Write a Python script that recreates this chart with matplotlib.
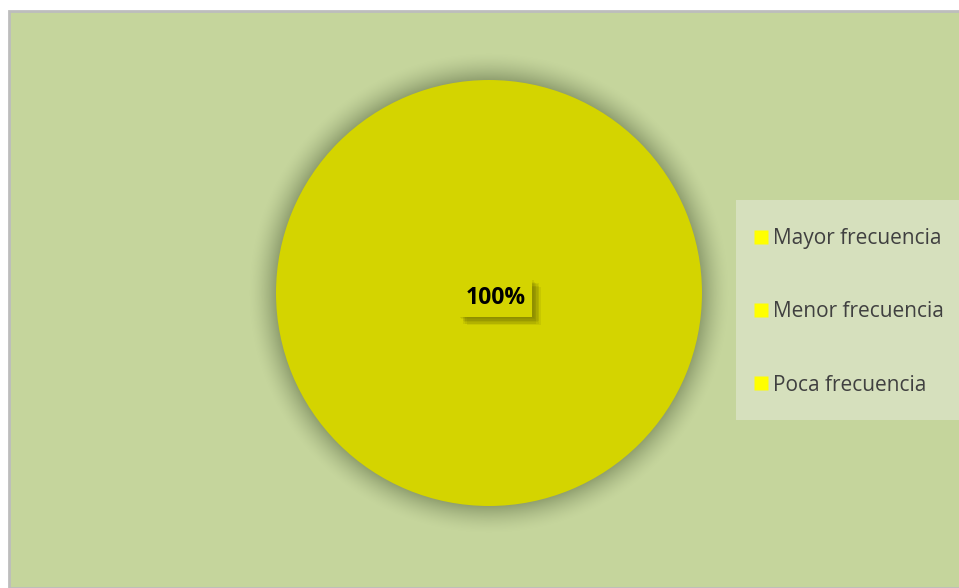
import numpy as np
import matplotlib.pyplot as plt
from matplotlib.patches import Rectangle
from matplotlib.lines import Line2D
import matplotlib.patheffects as pe

# survey answers, share of responses
categories = ['Mayor frecuencia', 'Menor frecuencia', 'Poca frecuencia']
values = [100, 0, 0]

W, H = 959, 588
fig = plt.figure(figsize=(W / 100, H / 100), dpi=100, facecolor='white')

# chart area background with thin grey border on the top/left
fig.patches.append(Rectangle((9 / W, 0), 1, (H - 11) / H, transform=fig.transFigure,
                             facecolor='#c5d59c', edgecolor='#bdbdbd', linewidth=2, zorder=-10))
# legend panel
fig.patches.append(Rectangle((736 / W, (H - 420) / H), (W - 736) / W + 0.01, 220 / H,
                             transform=fig.transFigure, facecolor='#d6e0bd', edgecolor='none', zorder=-5))

# pie axes: centre (489, 293) px, radius ~213 px
R = 213
half = 1.2 * R
ax = fig.add_axes([(489 - half) / W, (H - 293 - half) / H, 2 * half / W, 2 * half / H])
ax.axis('off')

# soft shadow around the pie
g = np.linspace(-1.2, 1.2, 800)
xx, yy = np.meshgrid(g, g)
rr = np.hypot(xx, yy)
t = np.clip((rr - 0.99) / 0.14, 0, 1)
alpha = 0.62 * (1 - t) ** 1.6
shadow = np.zeros((800, 800, 4))
shadow[..., 0] = 0.40
shadow[..., 1] = 0.46
shadow[..., 2] = 0.30
shadow[..., 3] = alpha
ax.imshow(shadow, extent=(-1.2, 1.2, -1.2, 1.2), origin='lower', zorder=1, interpolation='bilinear')

wedges, _ = ax.pie(values, colors=['#d4d400'] * 3, startangle=90, counterclock=False,
                   radius=1.0, wedgeprops=dict(linewidth=0))
for w in wedges:
    w.set_zorder(2)
ax.set_xlim(-1.2, 1.2)
ax.set_ylim(-1.2, 1.2)
ax.set_aspect('equal')

total = sum(values)
pct = '%d%%' % round(100 * values[0] / total)
lbl = ax.text(0.03, -0.022, pct, ha='center', va='center', fontsize=16.5, fontweight='bold',
              family=['Open Sans', 'DejaVu Sans'], color='black', zorder=5,
              bbox=dict(boxstyle='square,pad=0.3', facecolor='#d4d400', edgecolor='none'))
# blurred drop shadow under the label box
blur = [pe.SimplePatchShadow(offset=(dx, -dy), shadow_rgbFace='#6e6e00', alpha=0.12)
        for dx, dy in [(1, 1), (2, 2), (3, 3), (4, 4), (5, 5), (3, 5), (5, 3), (6, 6)]]
lbl.get_bbox_patch().set_path_effects(blur + [pe.Normal()])

handles = [Line2D([], [], marker='s', linestyle='none', markersize=10,
                  markerfacecolor='#ffff00', markeredgecolor='none') for _ in categories]
fig.legend(handles, categories, loc='center left', bbox_to_anchor=(756 / W, (H - 312) / H),
           frameon=False, handlelength=0.5, handletextpad=0.3, labelspacing=2.5,
           borderaxespad=0, borderpad=0,
           prop=dict(family=['Open Sans', 'DejaVu Sans'], size=15), labelcolor='#404040')

fig.savefig('out.png', dpi=100, facecolor='white')
